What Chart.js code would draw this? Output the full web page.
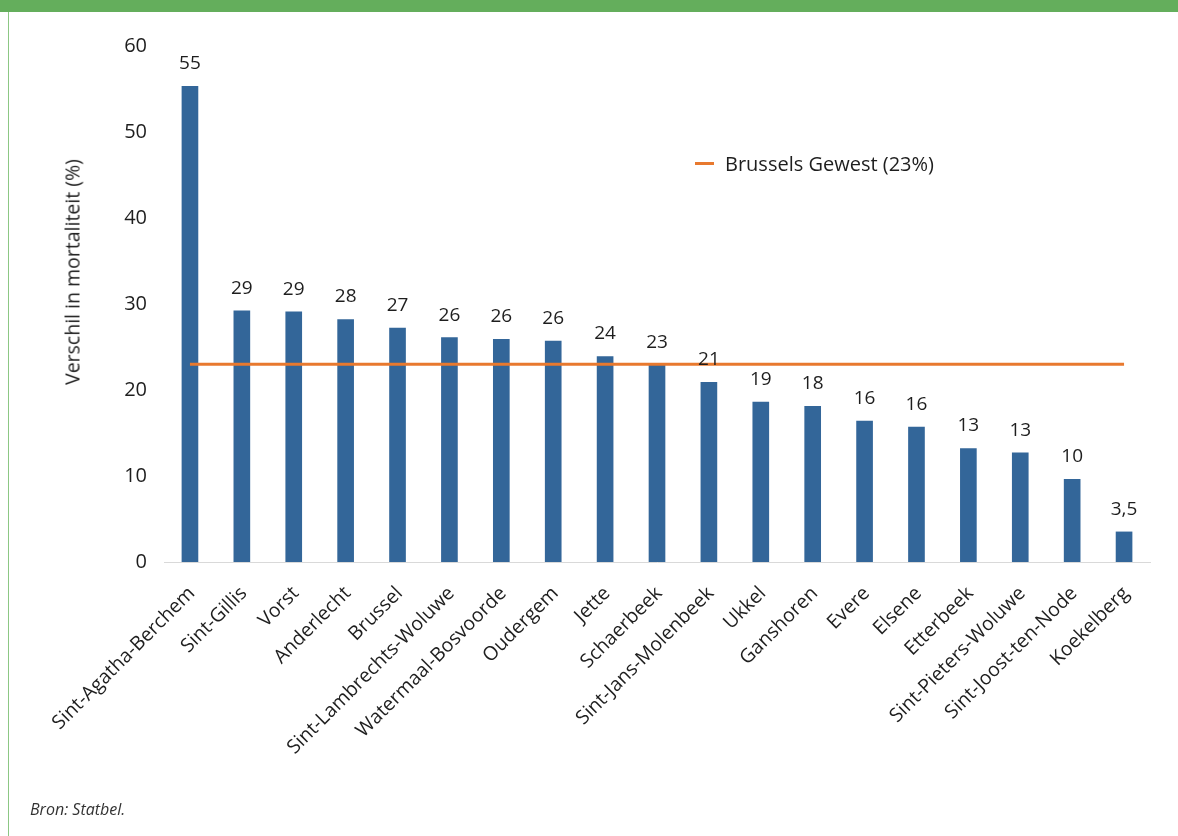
<!DOCTYPE html>
<html>
<head>
<meta charset="utf-8">
<script src="https://cdn.jsdelivr.net/npm/chart.js@4.4.1/dist/chart.umd.min.js"></script>
<style>
  body { margin:0; background:#fff; font-family:"Open Sans", sans-serif; }
  #wrap { position:relative; width:1178px; height:836px; overflow:hidden; }
  #topbar { position:absolute; left:0; top:0; width:1178px; height:12px; background:#64ae5c; }
  #leftline { position:absolute; left:8px; top:12px; width:1px; height:824px; background:#8cc784; }
  #c { position:absolute; left:0; top:0; }
  #ytitle { position:absolute; left:72px; top:272px; transform:translate(-50%,-50%) rotate(-90deg);
            white-space:nowrap; font-size:19.5px; font-weight:normal; color:#1e1e1e; }
  #legend { position:absolute; left:695px; top:150px; font-size:20px; color:#1e1e1e; white-space:nowrap; }
  #legend span.sw { display:inline-block; width:19px; height:3px; background:#e8792e; vertical-align:middle; margin-right:11px; position:relative; top:-2px; }
  #src { position:absolute; left:30px; top:798px; font-size:16px; font-style:italic; color:#333; }
</style>
</head>
<body>
<div id="wrap">
  <canvas id="c" width="1178" height="836"></canvas>
  <div id="topbar"></div>
  <div id="leftline"></div>
  <div id="ytitle">Verschil in mortaliteit (%)</div>
  <div id="legend"><span class="sw"></span>Brussels Gewest (23%)</div>
  <div id="src">Bron: Statbel.</div>
</div>
<script>
// gemeenten
const gemeenten = ["Sint-Agatha-Berchem","Sint-Gillis","Vorst","Anderlecht","Brussel",
  "Sint-Lambrechts-Woluwe","Watermaal-Bosvoorde","Oudergem","Jette","Schaerbeek",
  "Sint-Jans-Molenbeek","Ukkel","Ganshoren","Evere","Elsene","Etterbeek",
  "Sint-Pieters-Woluwe","Sint-Joost-ten-Node","Koekelberg"];
const verschil = [55.3,29.2,29.1,28.2,27.2,26.1,25.9,25.7,23.9,22.9,20.9,18.6,18.1,16.4,15.7,13.2,12.7,9.6,3.5];
const gewest = 23;
const yTicks = [0,10,20,30,40,50,60];

const fmt = v => v >= 9.5 ? String(Math.round(v)) : v.toFixed(1).replace('.', ',');

// waarden boven de balken
const barLabels = {
  id: 'barLabels',
  afterDatasetsDraw(chart) {
    const ctx = chart.ctx;
    const meta = chart.getDatasetMeta(1);
    ctx.save();
    ctx.font = '19px "Open Sans", sans-serif';
    ctx.fillStyle = '#1e1e1e';
    ctx.textAlign = 'center';
    ctx.textBaseline = 'alphabetic';
    meta.data.forEach((bar, i) => {
      ctx.fillText(fmt(verschil[i]), bar.x, bar.y - 17);
    });
    ctx.restore();
  }
};

new Chart(document.getElementById('c').getContext('2d'), {
  data: {
    labels: gemeenten,
    datasets: [
      {type:'line', data: gemeenten.map(() => gewest), borderColor:'#e8792e', borderWidth:3,
       pointRadius:0, order:0},
      {type:'bar', data: verschil, backgroundColor:'#336699', barThickness:16, order:1}
    ]
  },
  options: {
    responsive:false,
    animation:false,
    layout:{padding:{left:0, right:28, top:46, bottom:74}},
    plugins:{legend:{display:false}, tooltip:{enabled:false}},
    scales:{
      x:{
        grid:{display:false},
        border:{display:true, color:'#d9d9d9', width:1},
        ticks:{color:'#1e1e1e', font:{size:19.5, family:'"Open Sans", sans-serif'}, maxRotation:45, minRotation:45,
               padding:12, labelOffset:2, autoSkip:false},
        afterFit(s){ s.height = 200; }
      },
      y:{
        min:0, max:60,
        afterBuildTicks(s){ s.ticks = yTicks.map(v => ({value:v})); },
        grid:{display:false, drawTicks:false},
        border:{display:false},
        ticks:{color:'#1e1e1e', font:{size:20, family:'"Open Sans", sans-serif'}, padding:17},
        afterFit(s){ s.width = 164; }
      }
    }
  },
  plugins:[barLabels]
});
</script>
</body>
</html>
